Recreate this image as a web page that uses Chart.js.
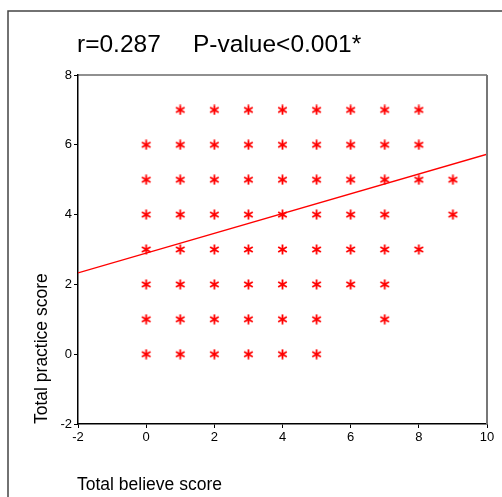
<!DOCTYPE html>
<html>
<head>
<meta charset="utf-8">
<script src="https://cdn.jsdelivr.net/npm/chart.js@4"></script>
<style>
    body { margin: 0; background: #fff; }
    #wrap { width: 502px; height: 497px; }
</style>
</head>
<body>
<div id="wrap"><canvas id="chart" width="502" height="497"></canvas></div>
<script>
// observed score pairs, one row per practice score
const practiceLevels = [7, 6, 5, 4, 3, 2, 1, 0];
const believeAtLevel = [
    [1, 2, 3, 4, 5, 6, 7, 8],
    [0, 1, 2, 3, 4, 5, 6, 7, 8],
    [0, 1, 2, 3, 4, 5, 6, 7, 8, 9],
    [0, 1, 2, 3, 4, 5, 6, 7, 9],
    [0, 1, 2, 3, 4, 5, 6, 7, 8],
    [0, 1, 2, 3, 4, 5, 6, 7],
    [0, 1, 2, 3, 4, 5, 7],
    [0, 1, 2, 3, 4, 5]
];

// fitted regression line end points
const fitX = [-2, 10];
const fitY = [2.33, 5.73];

const xTicks = [-2, 0, 2, 4, 6, 8, 10];
const yTicks = [-2, 0, 2, 4, 6, 8];

const titleLeft = 'r=0.287';
const titleRight = 'P-value<0.001*';
const xTitle = 'Total believe score';
const yTitle = 'Total practice score';

const FONT = '"Liberation Sans", Arial, sans-serif';

function makeMarker() {
    const c = document.createElement('canvas');
    c.width = 11;
    c.height = 11;
    const g = c.getContext('2d');
    g.strokeStyle = '#ff0000';
    g.lineWidth = 1.8;
    g.beginPath();
    g.moveTo(5.5, 0.5); g.lineTo(5.5, 10.5);
    g.moveTo(1.2, 3); g.lineTo(9.8, 8);
    g.moveTo(1.2, 8); g.lineTo(9.8, 3);
    g.stroke();
    return c;
}

function buildPoints() {
    const pts = [];
    practiceLevels.forEach((y, i) => {
        believeAtLevel[i].forEach(x => pts.push({ x: x, y: y }));
    });
    return pts;
}

const framePlugin = {
    id: 'frame',
    afterDraw(chart) {
        const ctx = chart.ctx;
        const a = chart.chartArea;
        ctx.save();
        // outer figure border
        ctx.strokeStyle = '#444';
        ctx.lineWidth = 1.5;
        ctx.beginPath();
        ctx.moveTo(8, 497);
        ctx.lineTo(8, 11);
        ctx.lineTo(502, 11);
        ctx.stroke();

        // top and right edge of plot box
        ctx.strokeStyle = '#222';
        ctx.lineWidth = 1.2;
        ctx.beginPath();
        ctx.moveTo(a.left, a.top);
        ctx.lineTo(a.right, a.top);
        ctx.stroke();
        ctx.strokeStyle = '#777';
        ctx.lineWidth = 2;
        ctx.beginPath();
        ctx.moveTo(a.right, a.top);
        ctx.lineTo(a.right, a.bottom);
        ctx.stroke();

        // texts
        ctx.fillStyle = '#000';
        ctx.textBaseline = 'alphabetic';
        ctx.textAlign = 'left';
        ctx.font = '24.5px ' + FONT;
        ctx.fillText(titleLeft, 77, 52);
        ctx.fillText(titleRight, 193, 52);

        ctx.font = '17.5px ' + FONT;
        ctx.fillText(xTitle, 77, 490);

        ctx.translate(47, 424);
        ctx.rotate(-Math.PI / 2);
        ctx.fillText(yTitle, 0, 0);
        ctx.restore();
    }
};

const axisCommon = {
    type: 'linear',
    grid: { drawOnChartArea: false, drawTicks: true, tickLength: 4, color: '#000' },
    border: { color: '#000', width: 1.5 },
    ticks: { stepSize: 2, color: '#000', font: { family: FONT, size: 13 } }
};

new Chart(document.getElementById('chart'), {
    type: 'scatter',
    data: {
        datasets: [
            {
                data: buildPoints(),
                pointStyle: makeMarker(),
                pointRadius: 5,
                showLine: false
            },
            {
                data: fitX.map((x, i) => ({ x: x, y: fitY[i] })),
                showLine: true,
                borderColor: '#ff0000',
                borderWidth: 1.3,
                pointRadius: 0
            }
        ]
    },
    options: {
        responsive: false,
        animation: false,
        layout: { padding: { top: 75, right: 15, bottom: 43, left: 0 } },
        plugins: { legend: { display: false }, tooltip: { enabled: false } },
        scales: {
            x: Object.assign({}, axisCommon, {
                min: xTicks[0], max: xTicks[xTicks.length - 1],
                ticks: Object.assign({}, axisCommon.ticks, { padding: 2, maxRotation: 0 }),
                afterFit: s => { s.height = 30; }
            }),
            y: Object.assign({}, axisCommon, {
                min: yTicks[0], max: yTicks[yTicks.length - 1],
                ticks: Object.assign({}, axisCommon.ticks, { padding: 2 }),
                afterFit: s => { s.width = 78; }
            })
        }
    },
    plugins: [framePlugin]
});
</script>
</body>
</html>
